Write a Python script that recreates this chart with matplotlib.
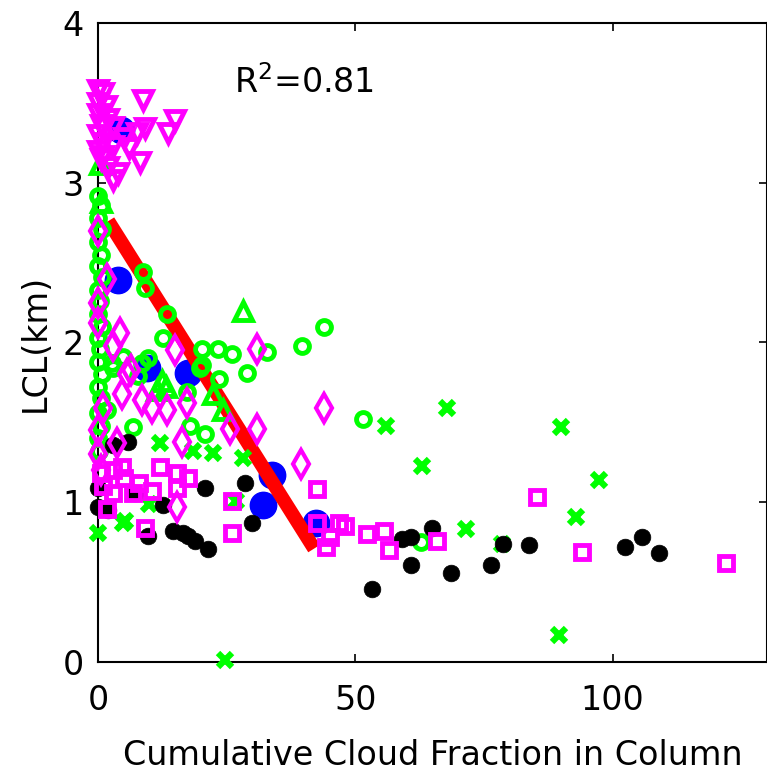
import matplotlib
matplotlib.use("Agg")
import matplotlib.pyplot as plt

# ---------------- data ----------------
fit_x = [2.0, 42.0]
fit_y = [2.76, 0.71]

blue_x = [4.5, 3.9, 9.5, 17.4, 33.9, 32.0, 42.4]
blue_y = [3.33, 2.39, 1.84, 1.81, 1.17, 0.98, 0.87]

gcirc_x = [0.0, 0.6, 0.0, 0.8, 0.0, 0.5, 0.0, 0.8, 0.0, 0.4, 0.0, 0.7, 0.0, 0.3,
           0.0, 0.8, 0.0, 0.5, 0.0, 0.6, 0.0, 0.2,
           8.7, 9.1, 13.4, 12.6, 20.3, 23.3, 26.0, 19.8, 28.9, 23.6, 9.7, 7.8,
           32.8, 39.7, 44.0, 17.2, 17.8, 20.7, 6.8, 8.5, 2.7, 1.7, 51.4, 62.8,
           20.2, 4.8, 2.9]
gcirc_y = [2.92, 2.86, 2.78, 2.71, 2.63, 2.55, 2.48, 2.41, 2.33, 2.26, 2.18, 2.10,
           2.03, 1.96, 1.88, 1.80, 1.72, 1.65, 1.56, 1.48, 1.40, 1.32,
           2.44, 2.34, 2.18, 2.03, 1.96, 1.96, 1.93, 1.84, 1.81, 1.77, 1.90, 1.79,
           1.94, 1.98, 2.10, 1.69, 1.48, 1.43, 1.47, 1.87, 1.87, 1.58, 1.52, 0.75,
           1.86, 1.91, 1.84]

gtri_x = [0.3, 0.5, 28.1, 22.3, 24.2, 12.4, 11.4, 13.2]
gtri_y = [3.12, 2.88, 2.20, 1.68, 1.58, 1.76, 1.70, 1.72]

gx_x = [67.8, 56.0, 63.0, 89.9, 97.4, 71.5, 92.8, 89.5, 78.5, 24.6, 12.0, 22.3,
        28.1, 5.2, 0.0, 26.9, 10.0, 18.4, 4.8]
gx_y = [1.59, 1.48, 1.23, 1.47, 1.14, 0.83, 0.91, 0.17, 0.74, 0.01, 1.37, 1.31,
        1.28, 0.88, 0.81, 1.01, 0.99, 1.32, 0.87]

blk_x = [5.8, 0.0, 0.0, 2.0, 12.6, 9.7, 14.5, 16.5, 18.8, 21.3, 20.7, 28.5, 30.0,
         7.2, 53.3, 59.1, 60.9, 64.9, 60.9, 68.6, 76.4, 78.7, 83.7, 102.5, 105.8,
         109.1, 17.5, 3.0]
blk_y = [1.38, 1.09, 0.97, 0.95, 0.98, 0.79, 0.82, 0.81, 0.76, 0.71, 1.09, 1.12,
         0.87, 1.06, 0.46, 0.77, 0.78, 0.84, 0.61, 0.56, 0.61, 0.74, 0.73, 0.72,
         0.78, 0.68, 0.79, 1.36]

mdia_x = [0.0, 1.7, 0.0, 0.0, 4.3, 2.9, 14.9, 30.8, 5.6, 6.4, 8.5, 10.5, 13.4, 4.7,
          17.2, 25.6, 30.8, 16.3, 39.5, 3.7, 44.0, 15.3, 1.0, 0.0, 0.0, 0.5]
mdia_y = [2.70, 2.40, 2.25, 2.12, 2.06, 1.98, 1.95, 1.96, 1.80, 1.83, 1.64, 1.59,
          1.58, 1.68, 1.62, 1.46, 1.46, 1.38, 1.24, 1.37, 1.59, 0.97, 1.59, 1.45,
          1.30, 1.20]

msq_x = [2.9, 4.6, 12.0, 15.3, 17.4, 2.9, 6.8, 10.5, 15.3, 1.7, 9.1, 26.0, 26.0,
         42.6, 42.6, 46.9, 44.4, 52.3, 55.6, 56.6, 65.9, 85.3, 94.0, 122.0, 0.5,
         1.0, 48.0, 45.0, 5.0, 8.0]
msq_y = [1.20, 1.22, 1.22, 1.18, 1.15, 1.06, 1.06, 1.07, 1.09, 0.96, 0.84, 1.01,
         0.81, 1.08, 0.87, 0.87, 0.72, 0.80, 0.82, 0.70, 0.76, 1.03, 0.69, 0.62,
         1.18, 1.10, 0.85, 0.78, 1.15, 1.12]

mtri_x = [0.0, 1.0, 0.0, 1.5, 0.0, 2.0, 0.5, 3.0, 0.0, 2.9, 1.0, 0.0, 0.5, 3.9,
          2.0, 3.0, 8.7, 14.9, 13.6, 9.1, 7.6, 8.1, 5.0, 6.0, 1.0]
mtri_y = [3.58, 3.56, 3.50, 3.48, 3.43, 3.40, 3.36, 3.35, 3.30, 3.23, 3.25, 3.20,
          3.15, 3.06, 3.10, 3.02, 3.52, 3.39, 3.31, 3.34, 3.31, 3.13, 3.28, 3.22,
          3.17]

r2_text = "R$^2$=0.81"
xlabel = "Cumulative Cloud Fraction in Column"
ylabel = "LCL(km)"
xticks = [0, 50, 100]
yticks = [0, 1, 2, 3, 4]

# ---------------- figure ----------------
plt.rcParams['font.family'] = ['DejaVu Sans']
fig = plt.figure(figsize=(7.67, 7.71), dpi=100)
ax = fig.add_axes([98/767, 109/771, 1 - 98/767, (662 - 23)/771])

MAG = '#FF00FF'
GRN = '#00FF00'

ax.plot(blue_x, blue_y, 'o', ms=19, color='#0000FF', mec='#0000FF', clip_on=False, zorder=2)
ax.plot(fit_x, fit_y, '-', color='#FF0000', lw=10, solid_capstyle='butt', zorder=3)
ax.plot(gx_x, gx_y, 'x', ms=10, mew=4.5, color=GRN, clip_on=False, zorder=4)
ax.plot(gcirc_x, gcirc_y, 'o', ms=10, mew=3.5, mfc='none', mec=GRN, clip_on=False, zorder=4)
ax.plot(gtri_x, gtri_y, '^', ms=13, mew=3.5, mfc='none', mec=GRN, clip_on=False, zorder=4)
ax.plot(blk_x, blk_y, 'o', ms=12, mew=0.5, color='black', clip_on=False, zorder=5)
ax.plot(mdia_x, mdia_y, 'd', ms=14, mew=3, mfc='none', mec=MAG, clip_on=False, zorder=6)
ax.plot(msq_x, msq_y, 's', ms=10.5, mew=3.5, mfc='none', mec=MAG, clip_on=False, zorder=6)
ax.plot(mtri_x, mtri_y, 'v', ms=13.5, mew=3.5, mfc='none', mec=MAG, clip_on=False, zorder=6)

ax.set_xlim(0, 130)
ax.set_ylim(0, 4)
ax.set_xticks(xticks)
ax.set_yticks(yticks)
ax.tick_params(direction='in', length=6, width=1.2, top=True, right=True,
               labelsize=24, pad=10)
ax.tick_params(axis='x', pad=16)
for s in ax.spines.values():
    s.set_linewidth(1.5)

ax.text(26.5, 3.56, r2_text, fontsize=24, va='baseline', ha='left')
ax.set_xlabel(xlabel, fontsize=24, labelpad=16)
ax.set_ylabel(ylabel, fontsize=24, labelpad=8)

fig.savefig("out.png", dpi=100)
